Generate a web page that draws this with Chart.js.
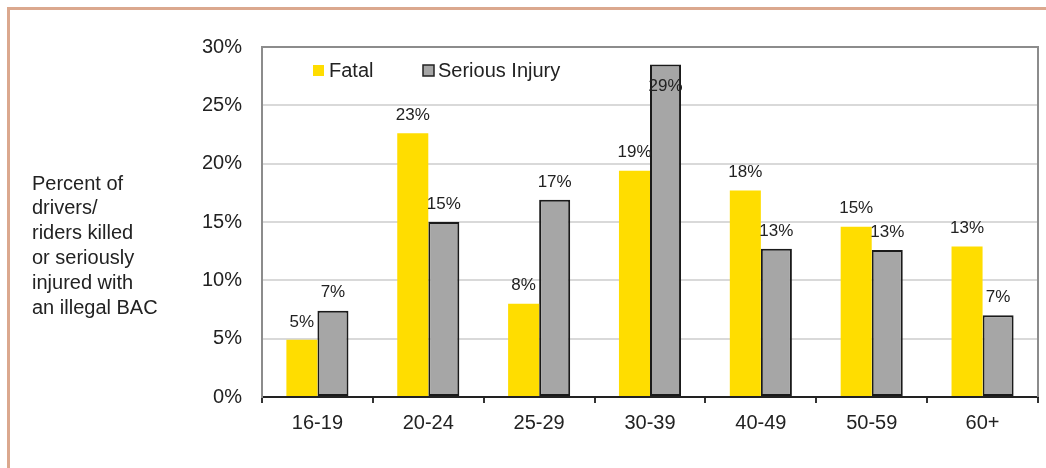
<!DOCTYPE html>
<html>
<head>
<meta charset="utf-8">
<script src="https://cdn.jsdelivr.net/npm/chart.js@4/dist/chart.umd.min.js"></script>
<style>
  body { margin: 0; background: #fff; }
  #wrap { position: relative; width: 1046px; height: 468px; overflow: hidden; }
  #frame { position: absolute; left: 7px; top: 7px; width: 1100px; height: 520px;
           border-top: 3px solid #dba88e; border-left: 3px solid #dba88e; }
  #bacChart { position: absolute; left: 0; top: 0; }
</style>
</head>
<body>
<div id="wrap">
  <div id="frame"></div>
  <canvas id="bacChart" width="1046" height="468"></canvas>
</div>
<script>
const ageGroups = ['16-19', '20-24', '25-29', '30-39', '40-49', '50-59', '60+'];
const fatalPct = [4.9, 22.6, 8.0, 19.4, 17.7, 14.6, 12.9];
const seriousPct = [7.4, 15.0, 16.9, 28.5, 12.7, 12.6, 7.0];
const yTitleLines = ['Percent of', 'drivers/', 'riders killed', 'or seriously', 'injured with', 'an illegal BAC'];

const FONT = '"Liberation Sans", Arial, sans-serif';
const TEXT = '#222';

// value labels over each bar, the y-axis caption, the in-plot key and the right frame line
const extras = {
  id: 'extras',
  afterDatasetsDraw(chart) {
    const ctx = chart.ctx;
    const area = chart.chartArea;
    ctx.save();

    ctx.strokeStyle = '#8c8c8c';
    ctx.lineWidth = 2;
    ctx.beginPath();
    ctx.moveTo(area.right, area.top - 1);
    ctx.lineTo(area.right, area.bottom);
    ctx.stroke();

    ctx.font = '17px ' + FONT;
    ctx.fillStyle = TEXT;
    ctx.textAlign = 'center';
    ctx.textBaseline = 'middle';
    chart.data.datasets.forEach((ds, i) => {
      chart.getDatasetMeta(i).data.forEach((bar, j) => {
        let y = bar.y - 18;
        if (y < area.top + 10) y = bar.y + 22;
        ctx.fillText(Math.round(ds.data[j]) + '%', bar.x, y);
      });
    });

    ctx.font = '20px ' + FONT;
    ctx.textAlign = 'left';
    yTitleLines.forEach((line, i) => ctx.fillText(line, 32, 184 + i * 24.8));

    // key
    const keyY = 71;
    ctx.fillStyle = chart.data.datasets[0].backgroundColor;
    ctx.fillRect(313, keyY - 6, 11, 11);
    ctx.fillStyle = TEXT;
    ctx.fillText(chart.data.datasets[0].label, 329, keyY);
    ctx.fillStyle = chart.data.datasets[1].backgroundColor;
    ctx.fillRect(423, keyY - 6, 11, 11);
    ctx.strokeStyle = '#222';
    ctx.lineWidth = 1.5;
    ctx.strokeRect(423, keyY - 6, 11, 11);
    ctx.fillStyle = TEXT;
    ctx.fillText(chart.data.datasets[1].label, 438, keyY);

    ctx.restore();
  }
};

new Chart(document.getElementById('bacChart'), {
  type: 'bar',
  data: {
    labels: ageGroups,
    datasets: [
      {
        label: 'Fatal',
        data: fatalPct,
        backgroundColor: '#ffdd00',
        borderWidth: 0
      },
      {
        label: 'Serious Injury',
        data: seriousPct,
        backgroundColor: '#a6a6a6',
        borderColor: '#1a1a1a',
        borderWidth: 2,
        borderSkipped: false
      }
    ]
  },
  options: {
    responsive: false,
    animation: false,
    layout: { padding: { left: 10, right: 8, top: 47, bottom: 0 } },
    datasets: { bar: { categoryPercentage: 0.56, barPercentage: 1 } },
    plugins: { legend: { display: false }, tooltip: { enabled: false } },
    scales: {
      x: {
        afterFit: s => { s.height = 71; },
        grid: {
          drawOnChartArea: false,
          drawTicks: true,
          tickLength: 6,
          color: '#333',
          lineWidth: 2
        },
        border: { color: '#222', width: 2 },
        ticks: { font: { family: FONT, size: 20 }, color: TEXT, padding: 8 }
      },
      y: {
        min: 0,
        max: 30,
        afterFit: s => { s.width = 252; },
        grid: {
          drawTicks: false,
          lineWidth: 2,
          color: c => (c.tick && c.tick.value === 30 ? '#8c8c8c' : '#d9d9d9')
        },
        border: { color: '#8c8c8c', width: 2 },
        ticks: {
          stepSize: 5,
          padding: 20,
          font: { family: FONT, size: 20 },
          color: TEXT,
          callback: v => v + '%'
        }
      }
    }
  },
  plugins: [extras]
});
</script>
</body>
</html>
